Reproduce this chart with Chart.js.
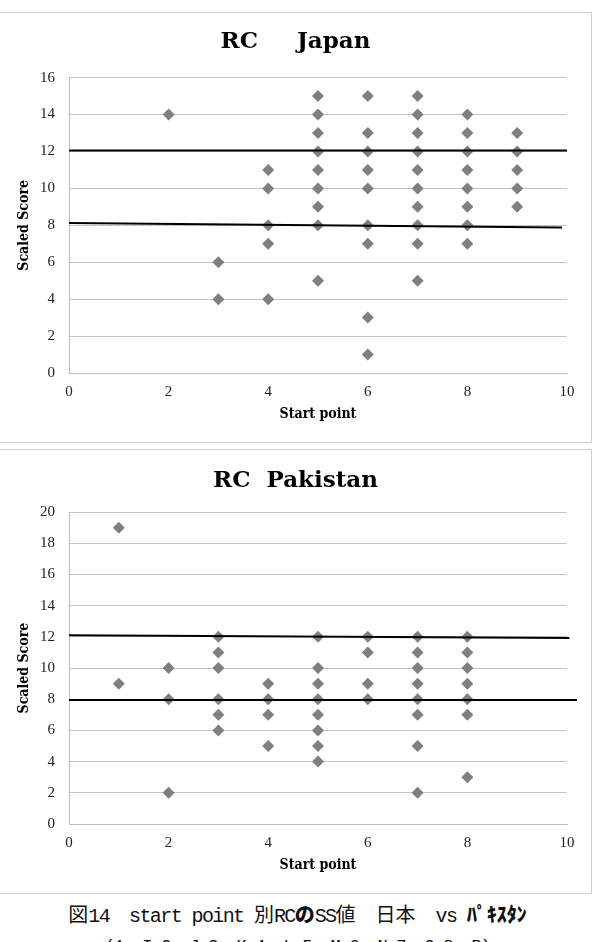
<!DOCTYPE html>
<html>
<head>
<meta charset="utf-8">
<script src="https://cdn.jsdelivr.net/npm/chart.js@4.4.0/dist/chart.umd.min.js"></script>
<style>
  body { margin: 0; background: #fff; width: 595px; height: 942px; overflow: hidden; position: relative; }
  .box { position: absolute; left: -1px; width: 593px; border: 1px solid #cfcfcf; box-sizing: border-box; background: #fff; }
  .box canvas { display: block; }
  #caption { position: absolute; left: 0; width: 595px; top: 901px; text-align: center;
    font-family: "Noto Sans CJK JP"; font-size: 20px; line-height: 26px; color: #111; white-space: nowrap; }
  #caption .m { font-family: "Liberation Mono", monospace; letter-spacing: -1.6px; }
  #caption b { font-weight: 900; }
  #caption .l2 { font-family: "Liberation Mono", monospace; font-size: 17px; letter-spacing: -0.8px; }
</style>
</head>
<body>
<div class="box" style="top:12px;height:431px"><canvas id="japan" width="591" height="429"></canvas></div>
<div class="box" style="top:449px;height:445px"><canvas id="pakistan" width="591" height="443"></canvas></div>
<div id="caption">図<span class="m">14</span>　<span class="m">start point </span>別<span class="m">RC</span><b>の</b><span class="m">SS</span>値　日本　<span class="m">vs </span><b>ﾊﾟｷｽﾀﾝ</b><br><span class="l2">(1 →I 2 →J 3 →K 4 →L 5 →M 6 →N 7 →O 8 →P)</span></div>
<script>
// RC Japan
const japanStart = [2, 3, 3, 4, 4, 4, 4, 4,
  5, 5, 5, 5, 5, 5, 5, 5, 5,
  6, 6, 6, 6, 6, 6, 6, 6, 6,
  7, 7, 7, 7, 7, 7, 7, 7, 7, 7,
  8, 8, 8, 8, 8, 8, 8, 8,
  9, 9, 9, 9, 9];
const japanScore = [14, 6, 4, 11, 10, 8, 7, 4,
  15, 14, 13, 12, 11, 10, 9, 8, 5,
  15, 13, 12, 11, 10, 8, 7, 3, 1,
  15, 14, 13, 12, 11, 10, 9, 8, 7, 5,
  14, 13, 12, 11, 10, 9, 8, 7,
  13, 12, 11, 10, 9];
const japanLineA = [{x: 0, y: 12.05}, {x: 10, y: 12.05}];
const japanLineB = [{x: 0, y: 8.12}, {x: 9.9, y: 7.88}];

// RC Pakistan
const pakStart = [1, 1, 2, 2, 2,
  3, 3, 3, 3, 3, 3,
  4, 4, 4, 4,
  5, 5, 5, 5, 5, 5, 5, 5,
  6, 6, 6, 6,
  7, 7, 7, 7, 7, 7, 7, 7,
  8, 8, 8, 8, 8, 8, 8];
const pakScore = [19, 9, 10, 8, 2,
  12, 11, 10, 8, 7, 6,
  9, 8, 7, 5,
  12, 10, 9, 8, 7, 6, 5, 4,
  12, 11, 9, 8,
  12, 11, 10, 9, 8, 7, 5, 2,
  12, 11, 10, 9, 8, 7, 3];
const pakLineA = [{x: 0, y: 12.1}, {x: 10.05, y: 11.92}];
const pakLineB = [{x: 0, y: 7.95}, {x: 10.2, y: 7.95}];

const xTicks = [0, 2, 4, 6, 8, 10];

const tickFont = {family: 'Liberation Serif', size: 15};
const labelFont = {family: 'DejaVu Serif Condensed', size: 14, weight: 'bold'};

function lineSet(pts) {
  return {type: 'line', data: pts, borderColor: '#000', borderWidth: 2, pointRadius: 0, fill: false, clip: false, showLine: true};
}

function makeChart(id, title, xs, ys, lineA, lineB, yMax, titlePad) {
  const points = xs.map((x, i) => ({x: x, y: ys[i]}));
  new Chart(document.getElementById(id), {
    type: 'scatter',
    data: {
      datasets: [
        lineSet(lineA),
        lineSet(lineB),
        {data: points, pointStyle: 'rectRot', pointRadius: 6, pointBackgroundColor: '#7f7f7f', pointBorderColor: '#7f7f7f', pointBorderWidth: 0}
      ]
    },
    options: {
      responsive: false,
      animation: false,
      layout: {padding: 0},
      plugins: {
        legend: {display: false},
        tooltip: {enabled: false},
        title: {display: true, text: title, color: '#000', padding: titlePad,
          font: {family: 'DejaVu Serif', size: 23, weight: 'bold'}}
      },
      scales: {
        x: {
          type: 'linear', min: 0, max: 10,
          afterBuildTicks: s => { s.ticks = xTicks.map(v => ({value: v})); },
          grid: {display: false, drawTicks: false},
          border: {display: true, color: '#bfbfbf'},
          ticks: {font: tickFont, color: '#222', padding: 10, maxRotation: 0},
          title: {display: true, text: 'Start point', color: '#000', font: labelFont, padding: {top: 0, bottom: 19}},
          afterFit: s => { s.height = 69; }
        },
        y: {
          min: 0, max: yMax,
          ticks: {stepSize: 2, font: tickFont, color: '#222', padding: 14},
          grid: {color: '#c4c4c4', drawTicks: false},
          border: {display: true, color: '#bfbfbf'},
          title: {display: true, text: 'Scaled Score', color: '#000', font: labelFont, padding: {top: 16, bottom: 0}},
          afterFit: s => { s.width = 69; }
        },
        // empty right-hand scale, only keeps the plot narrower than the box
        yR: {
          position: 'right', display: true,
          ticks: {display: false}, grid: {display: false, drawTicks: false}, border: {display: false},
          afterFit: s => { s.width = 24; }
        }
      }
    }
  });
}

makeChart('japan', 'RC\u3000  Japan', japanStart, japanScore, japanLineA, japanLineB, 16, {top: 15.5, bottom: 21.5});
makeChart('pakistan', 'RC  Pakistan', pakStart, pakScore, pakLineA, pakLineB, 20, {top: 17, bottom: 17.5});
</script>
</body>
</html>
